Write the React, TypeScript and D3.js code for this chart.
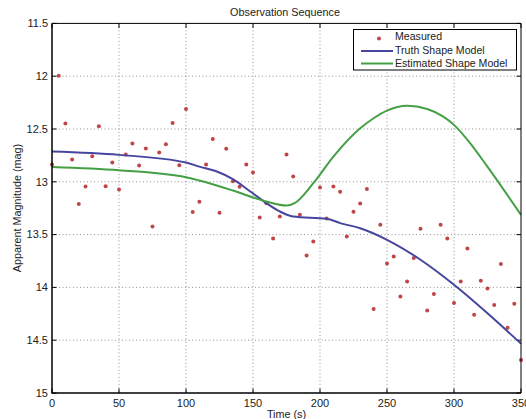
import React from "react";
import * as d3 from "d3";

const times = d3.range(0, 351, 5);
const measured = [
  12.837, 11.995, 12.449, 12.79, 13.21, 13.045, 12.757, 12.474, 13.041, 12.818,
  13.073, 12.742, 12.638, 12.846, 12.685, 13.423, 12.723, 12.644, 12.442, 12.843,
  12.31, 13.287, 13.19, 12.837, 12.594, 13.294, 12.688, 12.994, 13.048, 12.837,
  12.912, 13.338, 13.202, 13.537, 13.329, 12.742, 12.95, 13.313, 13.698, 13.565,
  13.054, 13.348, 13.045, 13.095, 13.518, 13.284, 13.206, 13.067, 14.205, 13.407,
  13.773, 13.707, 14.085, 13.943, 13.722, 13.445, 14.218, 14.063, 13.407, 13.537,
  14.148, 13.943, 13.631, 14.259, 13.937, 14.01, 14.167, 13.779, 14.382, 14.155,
  14.687,
];

const truthT = [0, 50, 100, 110, 123, 135, 148, 160, 170, 180, 205, 215, 230, 250, 275, 300, 325, 350];
const truthM = [12.714, 12.745, 12.818, 12.856, 12.903, 12.975, 13.092, 13.202, 13.281, 13.329, 13.35, 13.391, 13.44, 13.549, 13.738, 13.975, 14.245, 14.533];

const estT = [0, 50, 100, 110, 135, 160, 175, 181, 195, 210, 230, 240, 250, 265, 280, 292, 300, 312, 324, 350];
const estM = [12.859, 12.89, 12.956, 12.988, 13.083, 13.187, 13.225, 13.202, 13.013, 12.761, 12.493, 12.398, 12.326, 12.281, 12.31, 12.383, 12.461, 12.634, 12.84, 13.313];

const xTicks = [0, 50, 100, 150, 200, 250, 300, 350];
const yTicks = [11.5, 12, 12.5, 13, 13.5, 14, 14.5, 15];

const W = 526, H = 419;
const L = 52, R = 521, T = 23.4, B = 393;
const FONT = "'Liberation Sans', Arial, Helvetica, sans-serif";
const BLUE = "#4646a0";
const GREEN = "#45a045";
const RED = "#c04646";

export default function App() {
  const x = d3.scaleLinear().domain([0, 350]).range([L, R]);
  const y = d3.scaleLinear().domain([11.5, 15]).range([T, B]);
  const line = d3
    .line<[number, number]>()
    .x((d) => x(d[0]))
    .y((d) => y(d[1]))
    .curve(d3.curveMonotoneX);
  const truth = truthT.map((t, i) => [t, truthM[i]] as [number, number]);
  const est = estT.map((t, i) => [t, estM[i]] as [number, number]);

  return (
    <svg width={W} height={H} style={{ position: "absolute", left: 0, top: 0, background: "#fff" }} fontFamily={FONT}>
      <rect x={0} y={0} width={W} height={H} fill="#fff" />
      {/* grid */}
      {xTicks.slice(1, -1).map((t) => (
        <line key={"gx" + t} x1={x(t)} x2={x(t)} y1={T} y2={B} stroke="#777" strokeWidth={0.8} strokeDasharray="1,2.5" />
      ))}
      {yTicks.slice(1, -1).map((t) => (
        <line key={"gy" + t} x1={L} x2={R} y1={y(t)} y2={y(t)} stroke="#777" strokeWidth={0.8} strokeDasharray="1,2.5" />
      ))}
      {/* ticks */}
      {xTicks.map((t) => (
        <g key={"tx" + t}>
          <line x1={x(t)} x2={x(t)} y1={B} y2={B - 4.5} stroke="#000" />
          <line x1={x(t)} x2={x(t)} y1={T} y2={T + 4.5} stroke="#000" />
          <text x={x(t)} y={406.5} fontSize={11} textAnchor="middle" fill="#222">{t}</text>
        </g>
      ))}
      {yTicks.map((t) => (
        <g key={"ty" + t}>
          <line x1={L} x2={L + 4.5} y1={y(t)} y2={y(t)} stroke="#000" />
          <line x1={R} x2={R - 4.5} y1={y(t)} y2={y(t)} stroke="#000" />
          <text x={48} y={y(t)} dy="0.35em" fontSize={11} textAnchor="end" fill="#222">{t}</text>
        </g>
      ))}
      {/* data */}
      <g>
        {times.map((t, i) => (
          <circle key={"m" + i} cx={x(t)} cy={y(measured[i])} r={2} fill={RED} />
        ))}
      </g>
      <path d={line(truth) || ""} fill="none" stroke={BLUE} strokeWidth={2} />
      <path d={line(est) || ""} fill="none" stroke={GREEN} strokeWidth={2} />
      {/* box */}
      <line x1={L} x2={R} y1={T} y2={T} stroke="#000" strokeWidth={1} />
      <line x1={R} x2={R} y1={T} y2={B} stroke="#000" strokeWidth={1} />
      <line x1={L} x2={L} y1={T} y2={B + 0.75} stroke="#000" strokeWidth={1.5} />
      <line x1={L} x2={R} y1={B} y2={B} stroke="#000" strokeWidth={1.5} />
      {/* title and labels */}
      <text x={285} y={15.5} fontSize={10.8} textAnchor="middle" fill="#222">Observation Sequence</text>
      <text x={286.5} y={418} fontSize={10.8} textAnchor="middle" fill="#222">Time (s)</text>
      <text transform={`translate(21,208) rotate(-90)`} fontSize={10.8} textAnchor="middle" fill="#222">Apparent Magnitude (mag)</text>
      {/* legend */}
      <rect x={353.5} y={29.5} width={163} height={40.5} fill="#fff" stroke="#000" strokeWidth={1} />
      <circle cx={379} cy={38.5} r={2} fill={RED} />
      <text x={395} y={39.5} fontSize={10.6} fill="#222">Measured</text>
      <line x1={361} x2={393} y1={51} y2={51} stroke={BLUE} strokeWidth={2} />
      <text x={395} y={53.5} fontSize={10.6} fill="#222">Truth Shape Model</text>
      <line x1={361} x2={393} y1={63.5} y2={63.5} stroke={GREEN} strokeWidth={2} />
      <text x={395} y={66.5} fontSize={10.6} fill="#222">Estimated Shape Model</text>
    </svg>
  );
}
